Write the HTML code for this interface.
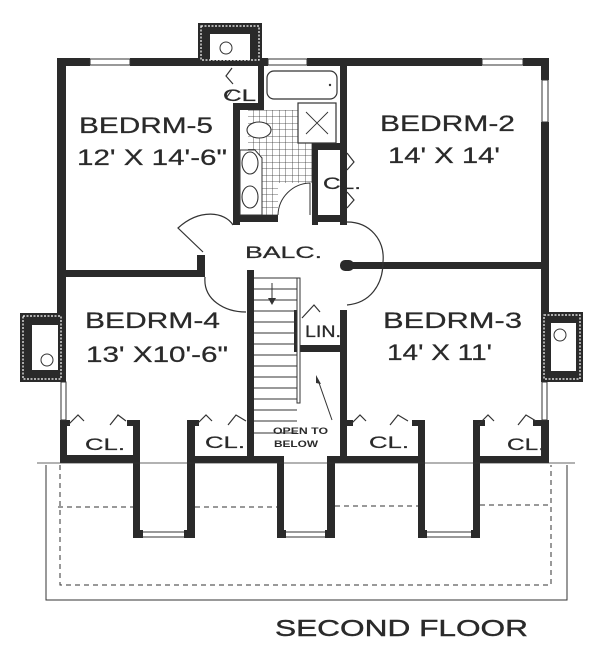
<!DOCTYPE html>
<html><head><meta charset="utf-8"><style>
html,body{margin:0;padding:0;background:#fff;}
svg{display:block;}
text{font-family:"Liberation Sans",sans-serif;fill:#2a2a2a;}
</style></head><body>
<svg width="600" height="663" viewBox="0 0 600 663" xmlns="http://www.w3.org/2000/svg">
<defs>
<pattern id="tile" width="6.5" height="6.5" patternUnits="userSpaceOnUse"><path d="M6.5 0V6.5M0 6.5H6.5" stroke="#333" stroke-width="0.8" fill="none"/></pattern>
</defs>
<rect width="600" height="663" fill="#fff"/>
<g fill="#2a2a2a">
<rect x="57" y="58" width="33" height="8"/>
<rect x="130" y="58" width="138" height="8"/>
<rect x="307" y="58" width="175" height="8"/>
<rect x="523" y="58" width="26" height="8"/>
<rect x="57" y="58" width="9" height="255"/>
<rect x="60" y="420" width="7" height="43"/>
<rect x="541" y="58" width="8" height="22"/>
<rect x="541" y="122" width="8" height="191"/>
<rect x="541" y="420" width="8" height="43"/>
<rect x="258" y="66" width="6" height="44"/>
<rect x="233" y="103" width="31" height="7"/>
<rect x="233" y="103" width="7" height="122"/>
<rect x="340" y="66" width="7" height="159"/>
<rect x="312" y="143" width="35" height="7"/>
<rect x="312" y="143" width="6" height="82"/>
<rect x="233" y="215" width="45" height="7"/>
<rect x="312" y="215" width="35" height="7"/>
<rect x="66" y="270" width="137" height="7"/>
<rect x="197" y="255" width="8" height="22"/>
<rect x="342" y="262" width="199" height="7"/>
<rect x="340" y="260" width="14" height="11" rx="5"/>
<rect x="247" y="270" width="7" height="193"/>
<rect x="294" y="310" width="6" height="42"/>
<rect x="294" y="345" width="53" height="7"/>
<rect x="340" y="310" width="7" height="153"/>
<rect x="60" y="455" width="80" height="8"/>
<rect x="133" y="423" width="7" height="115"/>
<rect x="187" y="423" width="8" height="115"/>
<rect x="187" y="456" width="95" height="7"/>
<rect x="277" y="456" width="7" height="82"/>
<rect x="327" y="456" width="8" height="82"/>
<rect x="327" y="456" width="98" height="7"/>
<rect x="418" y="423" width="7" height="115"/>
<rect x="473" y="423" width="7" height="115"/>
<rect x="473" y="456" width="76" height="7"/>
<rect x="60" y="420" width="10" height="6"/>
<rect x="127" y="420" width="13" height="6"/>
<rect x="187" y="420" width="12" height="6"/>
<rect x="341" y="420" width="12" height="6"/>
<rect x="412" y="420" width="13" height="6"/>
<rect x="473" y="420" width="12" height="6"/>
<rect x="533" y="420" width="16" height="6"/>
</g>
<g fill="#fff" stroke="#333" stroke-width="1">
<rect x="90" y="59" width="40" height="6"/>
<rect x="268" y="59" width="39" height="6"/>
<rect x="482" y="59" width="41" height="6"/>
<rect x="542" y="80" width="6" height="42"/>
<rect x="61" y="382" width="5" height="38"/>
<rect x="542" y="382" width="5" height="38"/>
<rect x="140" y="532" width="47" height="5"/>
<rect x="284" y="532" width="43" height="5"/>
<rect x="425" y="532" width="48" height="5"/>
</g>
<g fill="#2a2a2a"><rect x="133" y="530" width="10" height="8"/><rect x="184" y="530" width="11" height="8"/><rect x="277" y="530" width="9" height="8"/><rect x="325" y="530" width="10" height="8"/><rect x="418" y="530" width="9" height="8"/><rect x="471" y="530" width="9" height="8"/></g>
<g>
<rect x="198" y="23" width="64" height="37" fill="#2a2a2a"/>
<rect x="201" y="26" width="58" height="34" fill="none" stroke="#fff" stroke-width="1.2" stroke-dasharray="2 1.5"/>
<rect x="210" y="34" width="40" height="26" fill="#fff"/>
<circle cx="226" cy="48" r="6" fill="none" stroke="#333" stroke-width="1"/>
<rect x="20" y="313" width="46" height="69" fill="#2a2a2a"/>
<rect x="23" y="316" width="38" height="63" fill="none" stroke="#fff" stroke-width="1.2" stroke-dasharray="2 1.5"/>
<rect x="32" y="325" width="26" height="45" fill="#fff"/>
<circle cx="47" cy="360" r="6" fill="none" stroke="#333" stroke-width="1"/>
<rect x="541" y="312" width="42" height="70" fill="#2a2a2a"/>
<rect x="544" y="315" width="36" height="64" fill="none" stroke="#fff" stroke-width="1.2" stroke-dasharray="2 1.5"/>
<rect x="551" y="323" width="25" height="48" fill="#fff"/>
<circle cx="560" cy="335" r="6" fill="none" stroke="#333" stroke-width="1"/>
</g>
<rect x="248" y="110" width="64" height="105" fill="url(#tile)"/>
<rect x="267" y="71" width="70" height="28" rx="7" fill="#fff" stroke="#333" stroke-width="1.2"/>
<circle cx="330" cy="85" r="1.2" fill="#333"/>
<rect x="298" y="103" width="38" height="40" fill="#fff" stroke="#333" stroke-width="1.2"/>
<path d="M306 112L328 134M328 112L306 134" stroke="#333" stroke-width="0.9"/>
<path d="M240 150 L255 150 L262 158 L262 215 L240 215Z" fill="#fff" stroke="#333" stroke-width="1"/>
<ellipse cx="259" cy="130" rx="12" ry="8" fill="#fff" stroke="#333" stroke-width="1.1"/>
<ellipse cx="250" cy="163" rx="8" ry="11" fill="#fff" stroke="#333" stroke-width="1.1"/>
<ellipse cx="250" cy="197" rx="8" ry="11" fill="#fff" stroke="#333" stroke-width="1.1"/>
<rect x="278" y="183" width="34" height="32" fill="#fff"/>
<path d="M278 215 A33 33 0 0 1 310 183 V215" fill="none" stroke="#333" stroke-width="1"/>
<path d="M233 225 C225 212 200 208 178 228 L203 252 M205 277 C203 300 225 312 246 312 M347 222 C370 222 385 240 383 262 C383 285 370 303 347 305" fill="none" stroke="#333" stroke-width="1.2"/>
<g stroke="#333" stroke-width="1">
<path d="M254 278H297M254 289H297M254 300H297M254 311H297M254 322H297M254 333H297M254 344H297M254 355H297M254 366H297M254 377H297M254 388H297M254 399H297M254 410H297M254 421H297M254 433H297"/>
<rect x="297" y="278" width="3" height="125" fill="#fff"/>
<path d="M272 283V300" />
</g>
<path d="M268 298L276 298L272 305Z" fill="#333"/>
<path d="M332 420 L318 380" stroke="#333" stroke-width="1"/>
<path d="M316 375 L321 384 L316 383Z" fill="#333"/>
<g fill="none" stroke="#333" stroke-width="1.2">
<path d="M232 68 L226 76 L233 84 M232 90 L226 98"/>
<path d="M347 153 L354 162 L347 170 M347 192 L354 200 L347 208"/>
<path d="M302 318 L314 305 L320 312"/>
<path d="M68 425 L78 415 L84 421 M110 425 L118 415 L126 421"/>
<path d="M196 425 L206 415 L212 421 M228 425 L236 415 L246 421"/>
<path d="M350 425 L360 415 L366 421 M390 425 L398 415 L408 421"/>
<path d="M478 425 L488 415 L494 421 M518 425 L526 415 L536 421"/>
</g>
<path d="M37 463H575" stroke="#333" stroke-width="0.8"/>
<path d="M46 465V600H567V465" fill="none" stroke="#333" stroke-width="1"/>
<g fill="none" stroke="#333" stroke-width="1" stroke-dasharray="5 4">
<path d="M60 465V585H551V465"/>
<path d="M58 507H133M195 507H277M335 506H418M480 505H551"/>
</g>
<g font-size="22" stroke="#2a2a2a" stroke-width="0.25">
<text x="79" y="133" textLength="134" lengthAdjust="spacingAndGlyphs">BEDRM-5</text>
<text x="77" y="165" textLength="150" lengthAdjust="spacingAndGlyphs">12' X 14'-6"</text>
<text x="380" y="131" textLength="135" lengthAdjust="spacingAndGlyphs">BEDRM-2</text>
<text x="388" y="163" textLength="112" lengthAdjust="spacingAndGlyphs">14' X 14'</text>
<text x="85" y="328" textLength="135" lengthAdjust="spacingAndGlyphs">BEDRM-4</text>
<text x="86" y="362" textLength="142" lengthAdjust="spacingAndGlyphs">13' X10'-6"</text>
<text x="383" y="328" textLength="139" lengthAdjust="spacingAndGlyphs">BEDRM-3</text>
<text x="387" y="360" textLength="105" lengthAdjust="spacingAndGlyphs">14' X 11'</text>
</g>
<g font-size="17" stroke="#2a2a2a" stroke-width="0.25">
<text x="245" y="258" textLength="77" lengthAdjust="spacingAndGlyphs">BALC.</text>
<text x="223" y="101" textLength="33" lengthAdjust="spacingAndGlyphs">CL</text>
<text x="323" y="189" textLength="38" lengthAdjust="spacingAndGlyphs">CL.</text>
<text x="305" y="337" textLength="36" lengthAdjust="spacingAndGlyphs">LIN.</text>
<text x="85" y="450" textLength="40" lengthAdjust="spacingAndGlyphs">CL.</text>
<text x="205" y="448" textLength="40" lengthAdjust="spacingAndGlyphs">CL.</text>
<text x="369" y="448" textLength="40" lengthAdjust="spacingAndGlyphs">CL.</text>
<text x="507" y="450" textLength="38" lengthAdjust="spacingAndGlyphs">CL.</text>
</g>
<g font-size="9" font-weight="bold">
<text x="273" y="434" textLength="55" lengthAdjust="spacingAndGlyphs">OPEN TO</text>
<text x="274" y="447" textLength="44" lengthAdjust="spacingAndGlyphs">BELOW</text>
</g>
<text x="275" y="636" font-size="23" stroke="#2a2a2a" stroke-width="0.4" textLength="253" lengthAdjust="spacingAndGlyphs">SECOND FLOOR</text>
</svg>
</body></html>
